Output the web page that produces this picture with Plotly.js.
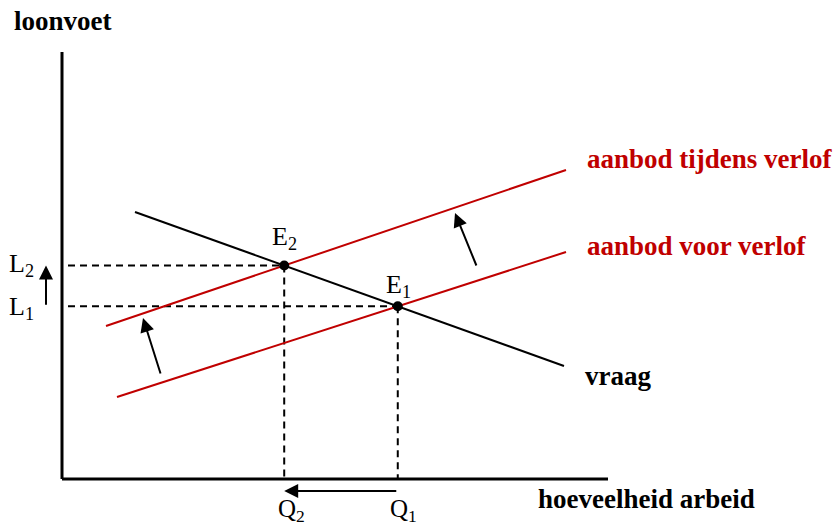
<!DOCTYPE html>
<html><head><meta charset="utf-8">
<script src="https://cdn.plot.ly/plotly-3.0.1.min.js"></script>
<style>html,body{margin:0;padding:0;background:#fff;}#chart{width:835px;height:527px;}</style>
</head><body><div id="chart"></div>
<script>
// Diagram units (origin at the corner of the axes)
const quantityAxis = [0, 546];
const wageAxis = [0, 427];
const demandX = [73, 502];
const demandY = [267, 113];
const supplyBeforeX = [55, 504];
const supplyBeforeY = [82, 227];
const supplyDuringX = [44, 504];
const supplyDuringY = [153, 309];
const shiftLowTail = [99, 104];
const shiftLowHead = [81, 161];
const shiftHighTail = [415, 212];
const shiftHighHead = [393, 266];
const guideStartX = 6;
const wageArrowX = -16;
const quantityArrowY = -12;

const yTitle = 'loonvoet';
const xTitle = 'hoeveelheid arbeid';
const demandLabel = 'vraag';
const supplyBeforeLabel = 'aanbod voor verlof';
const supplyDuringLabel = 'aanbod tijdens verlof';
const pointLabels = ['E<sub>1</sub>', 'E<sub>2</sub>'];
const wageLabels = ['L<sub>1</sub>', 'L<sub>2</sub>'];
const quantityLabels = ['Q<sub>1</sub>', 'Q<sub>2</sub>'];

const RED = '#c00000';
const SERIF = 'Liberation Serif, Times New Roman, serif';

function intersect(ax, ay, bx, by) {
  const m1 = (ay[1] - ay[0]) / (ax[1] - ax[0]);
  const m2 = (by[1] - by[0]) / (bx[1] - bx[0]);
  const c1 = ay[0] - m1 * ax[0];
  const c2 = by[0] - m2 * bx[0];
  const x = (c2 - c1) / (m1 - m2);
  return [x, m1 * x + c1];
}
const E1 = intersect(demandX, demandY, supplyBeforeX, supplyBeforeY);
const E2 = intersect(demandX, demandY, supplyDuringX, supplyDuringY);

const line = (x, y, color, width, dash) => ({
  type: 'scatter', mode: 'lines', x: x, y: y, hoverinfo: 'skip', showlegend: false,
  cliponaxis: false, line: {color: color, width: width, dash: dash || 'solid'}
});

const traces = [
  line([0, 0], wageAxis, '#000', 3),
  line(quantityAxis, [0, 0], '#000', 3),
  line([guideStartX, E2[0]], [E2[1], E2[1]], '#000', 2, '7px,5px'),
  line([guideStartX, E1[0]], [E1[1], E1[1]], '#000', 2, '7px,5px'),
  line([E2[0], E2[0]], [E2[1], 0], '#000', 2, '7px,5px'),
  line([E1[0], E1[0]], [E1[1], 0], '#000', 2, '7px,5px'),
  line(demandX, demandY, '#000', 2),
  line(supplyBeforeX, supplyBeforeY, RED, 2),
  line(supplyDuringX, supplyDuringY, RED, 2),
  {type: 'scatter', mode: 'markers', x: [E1[0], E2[0]], y: [E1[1], E2[1]], hoverinfo: 'skip',
   showlegend: false, cliponaxis: false, marker: {color: '#000', size: 10}}
];

const txt = (x, y, text, opts) => Object.assign({
  x: x, y: y, xref: 'x', yref: 'y', text: text, showarrow: false,
  xanchor: 'left', yanchor: 'middle',
  font: {family: SERIF, size: 27, color: '#000'}
}, opts || {});
const reg = {family: SERIF, size: 26, color: '#000'};
const arrow = (tail, head) => ({
  x: head[0], y: head[1], ax: tail[0], ay: tail[1], xref: 'x', yref: 'y', axref: 'x', ayref: 'y',
  text: '', showarrow: true, arrowhead: 2, arrowsize: 1.4, arrowwidth: 2, arrowcolor: '#000', standoff: 0
});

const annotations = [
  txt(-50, 458, '<b>' + yTitle + '</b>'),
  txt(474, -20, '<b>' + xTitle + '</b>'),
  txt(521, 103, '<b>' + demandLabel + '</b>'),
  txt(523, 320, '<b>' + supplyDuringLabel + '</b>', {font: {family: SERIF, size: 27, color: RED}}),
  txt(523, 233, '<b>' + supplyBeforeLabel + '</b>', {font: {family: SERIF, size: 27, color: RED}}),
  txt(E1[0], E1[1], pointLabels[0], {xanchor: 'center', yshift: 20, xshift: 1, font: reg}),
  txt(E2[0], E2[1], pointLabels[1], {xanchor: 'center', yshift: 28, font: reg}),
  txt(-26, E1[1], wageLabels[0], {xanchor: 'right', yshift: -2, font: reg}),
  txt(-26, E2[1], wageLabels[1], {xanchor: 'right', yshift: 1, font: reg}),
  txt(E1[0], -31, quantityLabels[0], {xanchor: 'center', xshift: 6, borderpad: 0, font: {family: SERIF, size: 25, color: '#000'}}),
  txt(E2[0], -31, quantityLabels[1], {xanchor: 'center', xshift: 7, borderpad: 0, font: {family: SERIF, size: 25, color: '#000'}}),
  arrow([wageArrowX, E1[1]], [wageArrowX, E2[1]]),
  arrow([E1[0], quantityArrowY], [E2[0], quantityArrowY]),
  arrow(shiftLowTail, shiftLowHead),
  arrow(shiftHighTail, shiftHighHead)
];

const layout = {
  width: 835, height: 527, margin: {l: 0, r: 0, t: 0, b: 0, pad: 0},
  paper_bgcolor: '#fff', plot_bgcolor: '#fff',
  xaxis: {range: [-62, 773], visible: false, fixedrange: true},
  yaxis: {range: [-48, 479], visible: false, fixedrange: true},
  annotations: annotations, showlegend: false
};
Plotly.newPlot('chart', traces, layout, {staticPlot: true, displayModeBar: false});
</script></body></html>
